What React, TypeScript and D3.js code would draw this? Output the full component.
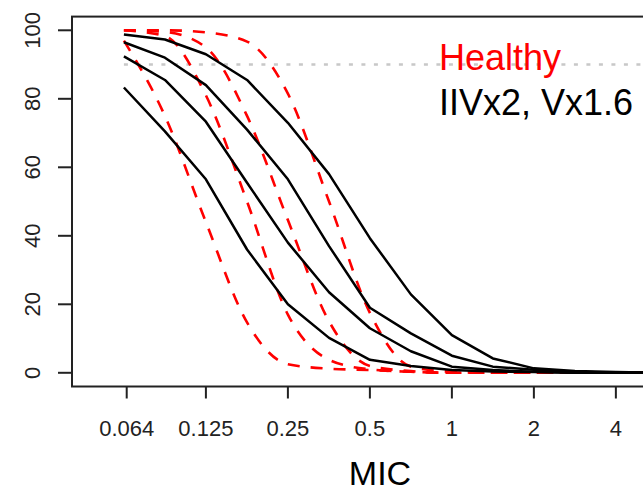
import React from 'react';
import * as d3 from 'd3';

// MIC grid (half-doubling steps)
const MIC = [0.0625, 0.0884, 0.125, 0.177, 0.25, 0.354, 0.5, 0.707, 1, 1.414, 2, 2.828, 4, 5.657, 8];

// Healthy (red dashed)
const healthy1 = [97, 75, 44, 14.7, 2.5, 1.2, 0.8, 0.3, 0, 0, 0, 0, 0, 0, 0];
const healthy2 = [100, 98.3, 81, 50, 17, 3.8, 1, 0.3, 0, 0, 0, 0, 0, 0, 0];
const healthy3 = [100, 99.5, 95, 75, 44.6, 15, 2, 0.5, 0, 0, 0, 0, 0, 0, 0];
const healthy4 = [100, 100, 99.4, 96.7, 81.5, 50, 17.5, 1.8, 0.3, 0, 0, 0, 0, 0, 0];

// IIVx2, Vx1.6 (black solid)
const iiv1 = [98.8, 97.3, 93, 85.5, 73, 58, 39.3, 22.9, 11, 4.2, 1.3, 0.5, 0.2, 0, 0];
const iiv2 = [96.5, 92, 84, 71, 56.5, 37, 19, 11.5, 5, 1.8, 0.9, 0.3, 0, 0, 0];
const iiv3 = [92.4, 85.5, 73.3, 55.5, 38, 23.5, 13, 6.3, 1.8, 0.8, 0.3, 0, 0, 0, 0];
const iiv4 = [83.3, 70.5, 56.5, 36, 20, 10.2, 3.8, 2, 0.8, 0.4, 0.2, 0, 0, 0, 0];

const xTicks = [0.064, 0.125, 0.25, 0.5, 1, 2, 4];
const xTickLabels = ['0.064', '0.125', '0.25', '0.5', '1', '2', '4'];
const yTicks = [0, 20, 40, 60, 80, 100];
const refLevel = 90;
const refRange = [0.0625, 8];
const legendHealthy = 'Healthy';
const legendOther = 'IIVx2, Vx1.6';
const xTitle = 'MIC';

const healthySeries = [healthy1, healthy2, healthy3, healthy4];
const iivSeries = [iiv1, iiv2, iiv3, iiv4];

export default function App() {
  const W = 643, H = 492;
  const left = 72, right = 688, top = 16.6, bottom = 386.5;
  const x = d3.scaleLog().base(2).domain([0.0403, 7.36]).range([left, right]);
  const y = d3.scaleLinear().domain([-4, 104]).range([bottom, top]);
  const lineLin = d3.line<number>().x((_, i) => x(MIC[i])).y(d => y(d)).curve(d3.curveLinear);
  const lineSmooth = d3.line<number>().x((_, i) => x(MIC[i])).y(d => y(d)).curve(d3.curveMonotoneX);
  const font = "'Liberation Sans', Arial, sans-serif";
  const axisColor = '#222';

  return (
    <svg width={W} height={H} style={{ position: 'absolute', left: 0, top: 0, background: '#fff' }}
      xmlns="http://www.w3.org/2000/svg">
      <defs>
        <clipPath id="plotclip">
          <rect x={left} y={top} width={right - left} height={bottom - top} />
        </clipPath>
      </defs>
      <rect x={0} y={0} width={W} height={H} fill="#fff" />
      <g clipPath="url(#plotclip)">
        <line x1={x(refRange[0])} x2={x(refRange[1])} y1={y(refLevel)} y2={y(refLevel)}
          stroke="#c8c8c8" strokeWidth={2.5} strokeDasharray="4,8.5" />
        {healthySeries.map((s, i) => (
          <path key={'h' + i} d={lineSmooth(s) || ''} fill="none" stroke="#ff0000"
            strokeWidth={2.6} strokeDasharray="12,11" />
        ))}
        {iivSeries.map((s, i) => (
          <path key={'b' + i} d={lineLin(s) || ''} fill="none" stroke="#000"
            strokeWidth={2.5} strokeLinejoin="round" />
        ))}
      </g>
      <rect x={left} y={top} width={right - left} height={bottom - top} fill="none"
        stroke={axisColor} strokeWidth={2} />
      {xTicks.map((t, i) => (
        <g key={'xt' + i}>
          <line x1={x(t)} x2={x(t)} y1={bottom} y2={bottom + 12} stroke={axisColor} strokeWidth={2} />
          <text x={x(t)} y={436} textAnchor="middle" fontFamily={font} fontSize={22} fill={axisColor}>
            {xTickLabels[i]}
          </text>
        </g>
      ))}
      {yTicks.map((t, i) => (
        <g key={'yt' + i}>
          <line x1={left - 14} x2={left} y1={y(t)} y2={y(t)} stroke={axisColor} strokeWidth={2} />
          <text transform={`translate(40, ${y(t)}) rotate(-90)`} textAnchor="middle"
            fontFamily={font} fontSize={22} fill={axisColor}>
            {String(t)}
          </text>
        </g>
      ))}
      <text x={439} y={70} fontFamily={font} fontSize={36} fill="#ff0000">{legendHealthy}</text>
      <text x={439} y={115} fontFamily={font} fontSize={36} fill="#000">{legendOther}</text>
      <text x={(left + right) / 2} y={485} textAnchor="middle" fontFamily={font} fontSize={34} fill="#000">
        {xTitle}
      </text>
    </svg>
  );
}
